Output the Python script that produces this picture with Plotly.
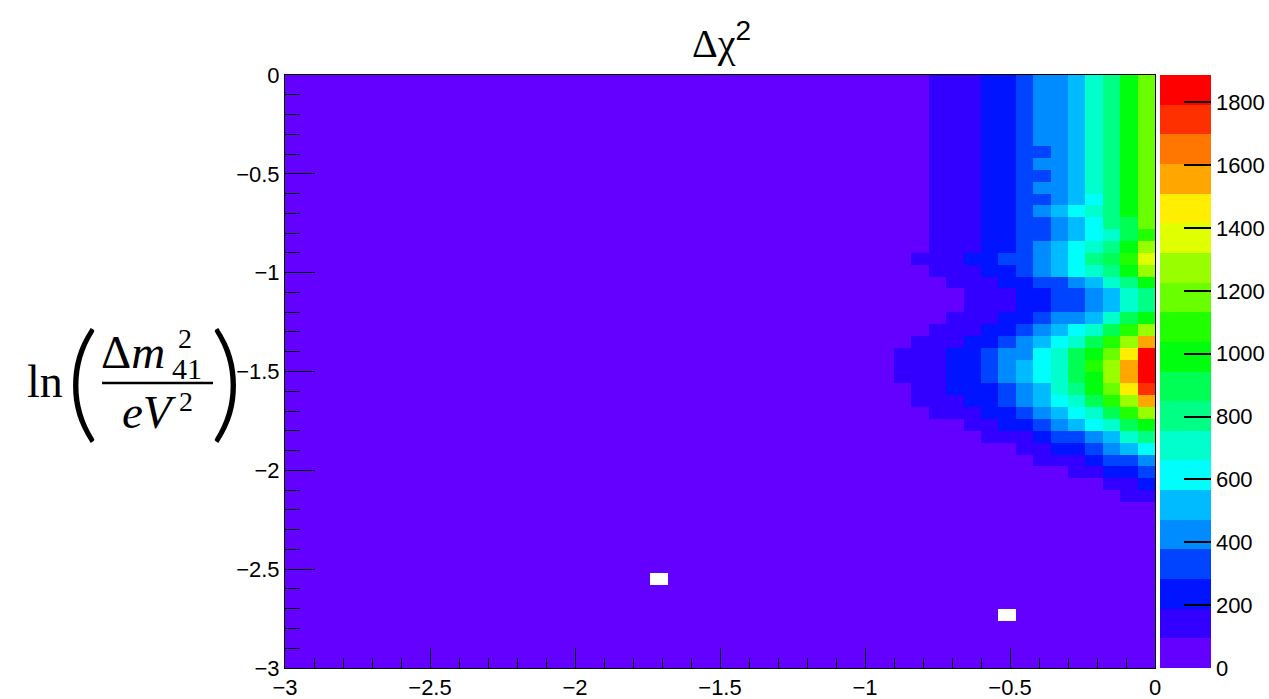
import numpy as np
import plotly.graph_objects as go

# ---------------- data ----------------
x_min, x_max, n_x = -3.0, 0.0, 50          # x-axis binning
y_min, y_max, n_y = -3.0, 0.0, 50          # ln(dm41^2/eV^2) binning

background_chi2 = 20                        # flat region (lowest colour band)
block_first_col = 34                        # first x bin of the structured region
# Δχ² estimates for x bins 34..49, listed from the top y bin (ln = 0) downwards
block_rows = [
    [20, 20, 20, 140, 140, 140, 240, 240, 330, 420, 420, 520, 710, 800, 990, 1180],
    [20, 20, 20, 140, 140, 140, 240, 240, 330, 420, 420, 520, 710, 800, 990, 1180],
    [20, 20, 20, 140, 140, 140, 240, 240, 330, 420, 420, 520, 710, 800, 990, 1180],
    [20, 20, 20, 140, 140, 140, 240, 240, 330, 420, 420, 520, 710, 800, 990, 1180],
    [20, 20, 20, 140, 140, 140, 240, 240, 330, 420, 420, 520, 710, 800, 990, 1180],
    [20, 20, 20, 140, 140, 140, 240, 240, 330, 420, 420, 520, 710, 800, 990, 1180],
    [20, 20, 20, 140, 140, 140, 240, 240, 330, 330, 420, 520, 710, 800, 990, 1180],
    [20, 20, 20, 140, 140, 140, 240, 240, 330, 420, 420, 520, 710, 800, 990, 1180],
    [20, 20, 20, 140, 140, 140, 240, 240, 330, 330, 420, 520, 710, 800, 990, 1180],
    [20, 20, 20, 140, 140, 140, 240, 240, 330, 420, 420, 520, 710, 800, 990, 1180],
    [20, 20, 20, 140, 140, 140, 240, 240, 330, 330, 420, 520, 610, 800, 990, 1180],
    [20, 20, 20, 140, 140, 140, 240, 240, 330, 420, 520, 610, 710, 800, 990, 1180],
    [20, 20, 20, 140, 140, 140, 240, 240, 330, 330, 420, 520, 610, 800, 900, 1180],
    [20, 20, 20, 140, 140, 140, 240, 240, 330, 330, 420, 520, 610, 710, 900, 1090],
    [20, 20, 20, 140, 140, 140, 240, 240, 330, 420, 520, 610, 710, 800, 990, 1270],
    [20, 20, 140, 140, 140, 240, 240, 330, 330, 420, 520, 610, 800, 900, 1090, 1370],
    [20, 20, 20, 140, 140, 140, 240, 240, 330, 420, 520, 610, 710, 800, 990, 1270],
    [20, 20, 20, 20, 140, 140, 140, 240, 240, 330, 330, 420, 520, 710, 800, 990],
    [20, 20, 20, 20, 20, 140, 140, 140, 240, 240, 330, 330, 420, 520, 710, 800],
    [20, 20, 20, 20, 20, 140, 140, 140, 240, 240, 330, 330, 420, 520, 710, 800],
    [20, 20, 20, 20, 140, 140, 140, 240, 240, 330, 420, 420, 520, 710, 900, 990],
    [20, 20, 20, 140, 140, 140, 240, 240, 330, 420, 520, 610, 710, 900, 1090, 1270],
    [20, 20, 140, 140, 140, 240, 240, 330, 420, 520, 610, 710, 900, 1090, 1270, 1560],
    [20, 140, 140, 140, 240, 240, 330, 420, 420, 610, 710, 900, 990, 1180, 1460, 1850],
    [20, 140, 140, 140, 240, 240, 330, 420, 520, 610, 710, 900, 1090, 1270, 1560, 1887],
    [20, 140, 140, 140, 240, 240, 330, 420, 520, 610, 710, 900, 990, 1270, 1560, 1850],
    [20, 20, 140, 140, 240, 240, 240, 330, 420, 520, 710, 800, 990, 1180, 1460, 1750],
    [20, 20, 140, 140, 140, 240, 240, 330, 420, 520, 610, 710, 900, 1090, 1270, 1560],
    [20, 20, 20, 140, 140, 140, 240, 240, 330, 420, 520, 610, 710, 900, 1090, 1270],
    [20, 20, 20, 20, 20, 140, 140, 240, 240, 330, 420, 520, 610, 710, 900, 990],
    [20, 20, 20, 20, 20, 20, 140, 140, 140, 240, 330, 330, 420, 520, 710, 800],
    [20, 20, 20, 20, 20, 20, 20, 20, 140, 140, 240, 240, 330, 420, 520, 610],
    [20, 20, 20, 20, 20, 20, 20, 20, 20, 140, 140, 140, 240, 330, 330, 420],
    [20, 20, 20, 20, 20, 20, 20, 20, 20, 20, 20, 140, 140, 240, 240, 330],
    [20, 20, 20, 20, 20, 20, 20, 20, 20, 20, 20, 20, 20, 140, 140, 240],
    [20, 20, 20, 20, 20, 20, 20, 20, 20, 20, 20, 20, 20, 20, 140, 140],
]
# bins without content (drawn white), given by their centres (x, y)
empty_bins = [(-1.71, -2.55), (-0.51, -2.73)]

z_min, z_max = 0, 1887
cbar_ticks = [0, 200, 400, 600, 800, 1000, 1200, 1400, 1600, 1800]

# ROOT "pretty" palette, 20 contour levels
palette = ["#6300ff", "#3300ff", "#0014ff", "#0044ff", "#008bff", "#00bbff",
           "#00fffc", "#00ffcc", "#00ff85", "#00ff55", "#00ff0e", "#22ff00",
           "#69ff00", "#99ff00", "#e0ff00", "#ffee00", "#ffa700", "#ff7700",
           "#ff3000", "#ff0000"]

# ---------------- build histogram ----------------
dx = (x_max - x_min) / n_x
dy = (y_max - y_min) / n_y
xc = x_min + dx * (np.arange(n_x) + 0.5)
yc = y_min + dy * (np.arange(n_y) + 0.5)

z = np.full((n_y, n_x), float(background_chi2))
for r, row in enumerate(block_rows):
    j = n_y - 1 - r
    z[j, block_first_col:block_first_col + len(row)] = row
for (bx, by) in empty_bins:
    i = int(np.floor((bx - x_min) / dx))
    j = int(np.floor((by - y_min) / dy))
    z[j, i] = np.nan

nlev = len(palette)
colorscale = []
for k, c in enumerate(palette):
    colorscale.append([k / nlev, c])
    colorscale.append([(k + 1) / nlev, c])

# ---------------- layout geometry ----------------
W_FIG, H_FIG = 1269, 699
L, R, T, B = 285, 114, 75, 31
PW, PH = W_FIG - L - R, H_FIG - T - B


def px_x(px):
    return (px - L) / PW


def px_y(py):
    return (T + PH - py) / PH


sans = "Liberation Sans, Arial, sans-serif"
serif = "Liberation Serif, DejaVu Serif, serif"

fig = go.Figure(go.Heatmap(
    x=xc, y=yc, z=z, zmin=z_min, zmax=z_max, colorscale=colorscale,
    zsmooth=False, hoverongaps=False,
    colorbar=dict(
        x=px_x(1159.5), xanchor="left", xpad=0, ypad=0,
        y=0.5, yanchor="middle", len=1, lenmode="fraction",
        thickness=51, thicknessmode="pixels", outlinewidth=0,
        tickmode="array", tickvals=cbar_ticks, ticks="inside", ticklen=27,
        tickwidth=1.5, tickcolor="black",
        tickfont=dict(family=sans, size=22, color="black"),
    ),
))

axis_common = dict(
    range=[-3, 0], tickmode="linear", tick0=-3, dtick=0.5,
    ticks="inside", tickwidth=1, tickcolor="black",
    showline=True, linecolor="black", linewidth=1, mirror=True,
    showgrid=False, zeroline=False, automargin=False,
    tickfont=dict(family=sans, size=22, color="black"),
)

fig.update_layout(
    width=W_FIG, height=H_FIG,
    margin=dict(l=L, r=R, t=T, b=B, pad=0, autoexpand=False),
    paper_bgcolor="white", plot_bgcolor="white",
    xaxis=dict(axis_common, ticklen=20,
               minor=dict(tick0=-3, dtick=0.1, ticks="inside", ticklen=10,
                          tickwidth=1, tickcolor="black", showgrid=False)),
    yaxis=dict(axis_common, ticklen=30,
               minor=dict(tick0=-3, dtick=0.1, ticks="inside", ticklen=15,
                          tickwidth=1, tickcolor="black", showgrid=False)),
    showlegend=False,
)

# right-hand axis line of the palette
fig.add_shape(type="line", xref="paper", yref="paper",
              x0=px_x(1210), x1=px_x(1210), y0=0, y1=1,
              line=dict(color="black", width=1.5))

# title  Δχ²
fig.add_annotation(
    text=f"<span style='font-family:{serif}'>Δχ</span><sup>2</sup>",
    xref="paper", yref="paper", x=px_x(721), y=px_y(41),
    xanchor="center", yanchor="middle", showarrow=False,
    font=dict(family=sans, size=40, color="black"))


def ann(text, cx, cy, size, family=serif, weight=None):
    f = dict(family=family, size=size, color="black")
    if weight is not None:
        f["weight"] = weight
    fig.add_annotation(text=text, xref="paper", yref="paper",
                       x=px_x(cx), y=px_y(cy), xanchor="center", yanchor="middle",
                       showarrow=False, font=f)


# y-axis title: ln( Δm²₄₁ / eV² )
ann("ln", 45, 381, 46)
ann("(", 82, 376, 128, family="Lato, DejaVu Sans, sans-serif", weight=300)
ann(")", 226, 376, 128, family="Lato, DejaVu Sans, sans-serif", weight=300)
ann("Δ<i>m</i>", 133, 352, 47)
ann("2", 185, 338, 28)
ann("41", 187, 368, 30)
ann("<i>eV</i>", 149, 412, 47)
ann("2", 186, 401, 28)
fig.add_shape(type="line", xref="paper", yref="paper",
              x0=px_x(102), x1=px_x(213), y0=px_y(383), y1=px_y(383),
              line=dict(color="black", width=2.5))

fig.write_html("out.html")
